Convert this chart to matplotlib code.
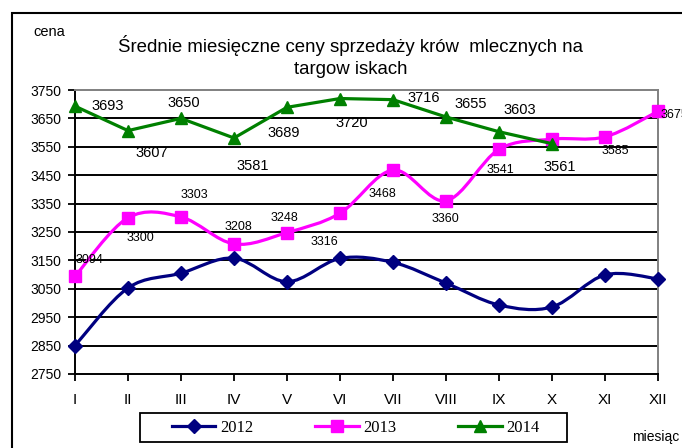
import matplotlib
matplotlib.use("Agg")
import matplotlib.pyplot as plt
import numpy as np
from matplotlib.path import Path
from matplotlib.patches import PathPatch, Rectangle
from matplotlib.lines import Line2D

months = ["I", "II", "III", "IV", "V", "VI", "VII", "VIII", "IX", "X", "XI", "XII"]
y2012 = [2850, 3053, 3105, 3158, 3075, 3157, 3143, 3070, 2993, 2986, 3099, 3085]
y2013 = [3094, 3300, 3303, 3208, 3248, 3316, 3468, 3360, 3541, 3577, 3585, 3675]
y2014 = [3693, 3607, 3650, 3581, 3689, 3720, 3716, 3655, 3603, 3561]
labels2013 = ["3094", "3300", "3303", "3208", "3248", "3316", "3468", "3360", "3541", "", "3585", "3675"]
labels2014 = ["3693", "3607", "3650", "3581", "3689", "3720", "3716", "3655", "3603", "3561"]
yticks = list(range(2750, 3751, 100))

# label offsets in pixels (dx right, dy down)
off2013 = [(15, -16), (12, 20), (13, -22), (4, -17), (-3, -15), (-16, 29), (-11, 24), (-1, 18), (1, 21), (0, 0), (10, 14), (3, 4)]
off2014 = [(33, 0), (24, 22), (3, -15), (19, 28), (-3, 26), (12, 24), (31, -2), (25, -13), (21, -22), (8, 23)]

SANS = ["Liberation Sans", "DejaVu Sans"]
NARROW = ["Liberation Sans Narrow", "Liberation Sans", "DejaVu Sans"]
SERIF = ["Liberation Serif", "DejaVu Serif"]
plt.rcParams["font.family"] = SANS

fig = plt.figure(figsize=(6.82, 4.48), dpi=100)
fig.patch.set_facecolor("white")
ax = fig.add_axes([75 / 682, 1 - 374 / 448, 583 / 682, 284 / 448])
ax.set_xlim(0, 11)
ax.set_ylim(2750, 3750)

# grid lines
for t in yticks[1:-1]:
    ax.axhline(t, color="black", lw=1.4, zorder=1)


def smooth_path(xs, ys):
    pts = np.column_stack([xs, ys]).astype(float)
    n = len(pts)
    verts = [tuple(pts[0])]
    codes = [Path.MOVETO]
    for i in range(n - 1):
        p0 = pts[i - 1] if i > 0 else pts[i]
        p1 = pts[i]
        p2 = pts[i + 1]
        p3 = pts[i + 2] if i + 2 < n else pts[i + 1]
        c1 = p1 + (p2 - p0) / 6.0
        c2 = p2 - (p3 - p1) / 6.0
        verts += [tuple(c1), tuple(c2), tuple(p2)]
        codes += [Path.CURVE4] * 3
    return Path(verts, codes)


x12 = np.arange(len(y2012))
x13 = np.arange(len(y2013))
x14 = np.arange(len(y2014))

c12, c13, c14 = "#000080", "#FF00FF", "#008000"

ax.add_patch(PathPatch(smooth_path(x12, y2012), facecolor="none", edgecolor=c12, lw=2.3, zorder=3, capstyle="round"))
ax.plot(x12, y2012, ls="none", marker="D", ms=7.5, color=c12, zorder=4, clip_on=False)

ax.add_patch(PathPatch(smooth_path(x13, y2013), facecolor="none", edgecolor=c13, lw=2.3, zorder=3, capstyle="round"))
ax.plot(x13, y2013, ls="none", marker="s", ms=8, color=c13, zorder=4, clip_on=False)

ax.plot(x14, y2014, ls="-", lw=2.3, marker="^", ms=9, color=c14, zorder=5, clip_on=False)

for i, (v, lab) in enumerate(zip(y2013, labels2013)):
    if not lab:
        continue
    dx, dy = off2013[i]
    ha = "left" if i == len(y2013) - 1 else "center"
    ax.annotate(lab, (i, v), xytext=(dx, -dy), textcoords="offset pixels",
                ha=ha, va="center", fontsize=9, family=NARROW, zorder=6, annotation_clip=False)

for i, (v, lab) in enumerate(zip(y2014, labels2014)):
    dx, dy = off2014[i]
    ax.annotate(lab, (i, v), xytext=(dx, -dy), textcoords="offset pixels",
                ha="center", va="center", fontsize=10.5, family=SANS, zorder=6, annotation_clip=False)

ax.set_yticks(yticks)
ax.set_yticklabels([str(t) for t in yticks], fontsize=10)
ax.set_xticks(range(len(months)))
ax.set_xticklabels(months, fontsize=11, family=NARROW)
ax.tick_params(axis="y", direction="out", length=5, width=1.3, pad=5)
ax.tick_params(axis="x", direction="out", length=5, width=1.3, pad=9)

for s in ["left", "bottom"]:
    ax.spines[s].set_color("black")
    ax.spines[s].set_linewidth(1.4)
for s in ["top", "right"]:
    ax.spines[s].set_color("#808080")
    ax.spines[s].set_linewidth(1.4)

# titles and axis names
fig.text(350 / 682, 1 - 45 / 448, "Średnie miesięczne ceny sprzedaży krów  mlecznych na",
         ha="center", va="center", fontsize=13.4, family=NARROW)
fig.text(351 / 682, 1 - 69 / 448, "targow iskach", ha="center", va="center", fontsize=13.4, family=NARROW)
fig.text(49 / 682, 1 - 32 / 448, "cena", ha="center", va="center", fontsize=10.5)
fig.text(632 / 682, 1 - 437 / 448, "miesiąc", ha="left", va="center", fontsize=10)

# outer frame
fig.add_artist(Rectangle((12 / 682, -0.2), 2.0, 1.2 - 13 / 448, transform=fig.transFigure,
                         facecolor="none", edgecolor="black", lw=1.5, zorder=0))

# legend frame
fig.add_artist(Rectangle((140 / 682, 1 - 442 / 448), 427 / 682, 29 / 448, transform=fig.transFigure,
                         facecolor="white", edgecolor="black", lw=1.3, zorder=1))

handles = [
    Line2D([], [], color=c12, lw=2.3, marker="D", ms=7.5),
    Line2D([], [], color=c13, lw=2.3, marker="s", ms=8),
    Line2D([], [], color=c14, lw=2.3, marker="^", ms=9),
]
leg = fig.legend(handles, ["2012", "2013", "2014"], ncol=3,
                 loc="center", bbox_to_anchor=(356 / 682, 1 - 427.5 / 448),
                 prop={"family": SERIF, "size": 12}, frameon=False,
                 handlelength=2.6, handletextpad=0.3, columnspacing=3.7,
                 borderpad=0.3, borderaxespad=0.0)
leg.set_zorder(2)

fig.savefig("out.png", dpi=100, facecolor="white")
